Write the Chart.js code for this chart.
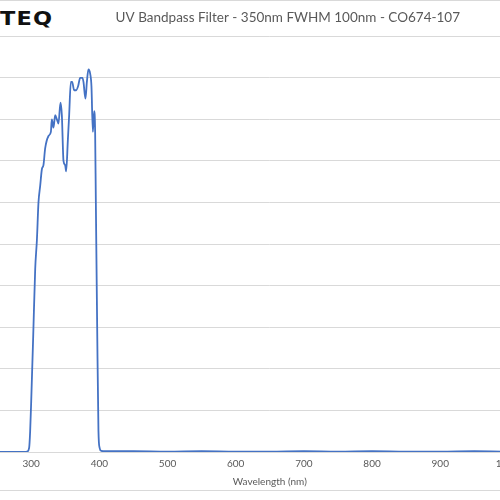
<!DOCTYPE html>
<html>
<head>
<meta charset="utf-8">
<script src="https://cdn.jsdelivr.net/npm/chart.js@4"></script>
<style>
    html, body { margin: 0; padding: 0; background: #fff; }
    body { width: 500px; height: 500px; overflow: hidden; position: relative; }
    #wrap { position: absolute; left: -100px; top: 0; width: 772px; height: 500px; }
    .edge { position: absolute; left: 0; width: 500px; height: 1px; background: #d9d9d9; }
    #logo { position: absolute; left: 0; top: 7px; font: bold 19px "DejaVu Sans", sans-serif; letter-spacing: 1px;
            color: #111; transform: scaleX(1.18); transform-origin: left top; }
</style>
</head>
<body>
<div class="edge" style="top:0"></div>
<div class="edge" style="top:490px"></div>
<div id="logo">TEQ</div>
<div id="wrap"><canvas id="chart" width="772" height="500"></canvas></div>
<script>
const chartTitle = "UV Bandpass Filter - 350nm FWHM 100nm - CO674-107";
const xTitle = "Wavelength (nm)";

// wavelength (nm) and transmission (%)
const wavelengths = [200, 250, 290, 294, 297, 298.5, 300, 303, 305.9, 308.4, 310.7, 313.2, 315.7, 318,
    320.5, 325.4, 328.9, 330.3, 332.7, 335.2, 337.7, 340, 343, 345, 347.4, 349.8, 351.3, 353.8,
    355.7, 358.2, 360.1, 363, 366, 368.9, 371.8, 375.2, 376.7, 379.6, 381.7, 384, 386.5, 388.4,
    390.5, 392.4, 393.8, 394.8, 396.8, 398.7, 400.4, 402.6, 410, 450, 500, 550, 600, 650, 700,
    750, 800, 850, 900, 950, 1000, 1050, 1100];
const transmission = [0, 0, 0, 0.1, 1, 5, 12, 28, 44, 51, 60, 64, 68, 69,
    73, 76, 77, 80, 78, 81, 80, 79, 84, 81, 70, 69, 67.5, 75,
    81, 89, 89, 87, 87, 88, 90, 90, 89, 85, 89, 92, 91, 88,
    77, 82, 77, 61, 30, 5, 1, 0.3, 0.2, 0.2, 0.1, 0.2, 0.1, 0.1, 0.2,
    0.1, 0.2, 0.1, 0.1, 0.2, 0.1, 0.1, 0.1];

const xMin = 200, xMax = 1100, xStep = 100;
const yMin = 0, yMax = 100, yStep = 10;

const points = wavelengths.map((w, i) => ({ x: w, y: transmission[i] }));

new Chart(document.getElementById("chart"), {
    type: "line",
    data: {
        datasets: [{
            data: points,
            borderColor: "#4472c4",
            borderWidth: 1.8,
            pointRadius: 0,
            fill: false,
            cubicInterpolationMode: "monotone"
        }]
    },
    options: {
        responsive: false,
        animation: false,
        layout: { padding: { left: 63, right: 59.4, top: 0, bottom: 7 } },
        plugins: {
            legend: { display: false },
            tooltip: { enabled: false },
            title: {
                display: true,
                text: chartTitle,
                color: "#595959",
                font: { family: "Lato", size: 13.5, weight: "normal" },
                padding: { top: 10, bottom: 10 }
            }
        },
        scales: {
            x: {
                type: "linear",
                min: xMin,
                max: xMax,
                grid: { display: false, drawTicks: false },
                border: { color: "#d9d9d9" },
                ticks: {
                    stepSize: xStep,
                    autoSkip: false,
                    maxRotation: 0,
                    padding: 7,
                    color: "#595959",
                    font: { family: "Lato", size: 10, lineHeight: 1 }
                },
                title: {
                    display: true,
                    text: xTitle,
                    color: "#595959",
                    font: { family: "Lato", size: 10 },
                    padding: { top: 0, bottom: 5 }
                }
            },
            y: {
                min: yMin,
                max: yMax,
                grid: { color: "#d9d9d9", drawTicks: false },
                border: { display: false },
                ticks: { display: false, stepSize: yStep }
            },
            // empty right-hand space, as in the original chart
            yRight: {
                position: "right",
                min: yMin,
                max: yMax,
                grid: { display: false, drawTicks: false },
                border: { display: false },
                ticks: { display: false },
                afterFit: (axis) => { axis.width = 36; }
            }
        }
    }
});
</script>
</body>
</html>
